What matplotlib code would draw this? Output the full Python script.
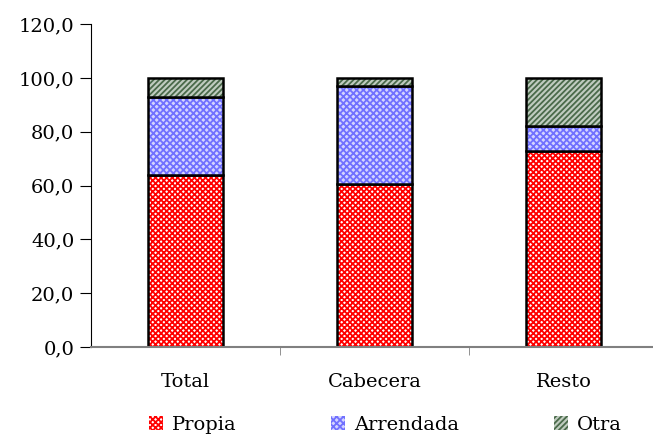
import numpy as np
import matplotlib
matplotlib.use("Agg")
import matplotlib.pyplot as plt
from matplotlib.patches import Patch

categories = ["Total", "Cabecera", "Resto"]
propia = [64.0, 60.5, 73.0]
arrendada = [29.0, 36.5, 9.2]
otra = [7.0, 3.0, 17.8]
series_names = ["Propia", "Arrendada", "Otra"]
yticks = [0, 20, 40, 60, 80, 100, 120]

plt.rcParams["font.family"] = ["DejaVu Serif"]
plt.rcParams["hatch.linewidth"] = 1.3

# (face, hatch colour, hatch)
styles = [
    ("white", "#ff0000", "xxxxxx"),
    ("#d4d4ff", "#7070ff", "xxxxx"),
    ("#c0ccc0", "#4a6a4a", "//////"),
]

fig = plt.figure(figsize=(6.53, 4.36), dpi=100)
ax = fig.add_axes([91 / 653, 89 / 436, 567 / 653, 322.8 / 436])

x = np.arange(len(categories))
width = 0.40
bottom = np.zeros(len(categories))
handles = []
for vals, name, (fc, hc, h) in zip([propia, arrendada, otra], series_names, styles):
    ax.bar(x, vals, width, bottom=bottom, color=fc, edgecolor=hc, hatch=h, linewidth=0)
    ax.bar(x, vals, width, bottom=bottom, fill=False, edgecolor="black", linewidth=1.8)
    bottom += np.array(vals)
    handles.append(Patch(facecolor=fc, edgecolor=hc, hatch=h, linewidth=0))

ax.set_xlim(-0.5, len(categories) - 0.5)
ax.set_ylim(0, 120)
ax.set_yticks(yticks)
ax.set_yticklabels([f"{v:.1f}".replace(".", ",") for v in yticks], fontsize=14)
ax.set_xticks(x)
ax.set_xticklabels(categories, fontsize=14)
ax.set_xticks([0.5, 1.5], minor=True)
ax.tick_params(axis="x", which="major", length=0, pad=19)
ax.tick_params(axis="x", which="minor", length=6, color="#808080", direction="out")
ax.tick_params(axis="y", length=8, color="black", direction="out", pad=4)

ax.spines["top"].set_visible(False)
ax.spines["right"].set_visible(False)
ax.spines["left"].set_color("black")
ax.spines["bottom"].set_color("#808080")
ax.spines["bottom"].set_linewidth(1.5)

fig.legend(handles, series_names, loc="center", bbox_to_anchor=(0.59, 0.026),
           ncol=3, frameon=False, fontsize=14, handlelength=0.7, handleheight=0.7,
           handletextpad=0.45, columnspacing=4.9)

fig.savefig("out.png", dpi=100)
